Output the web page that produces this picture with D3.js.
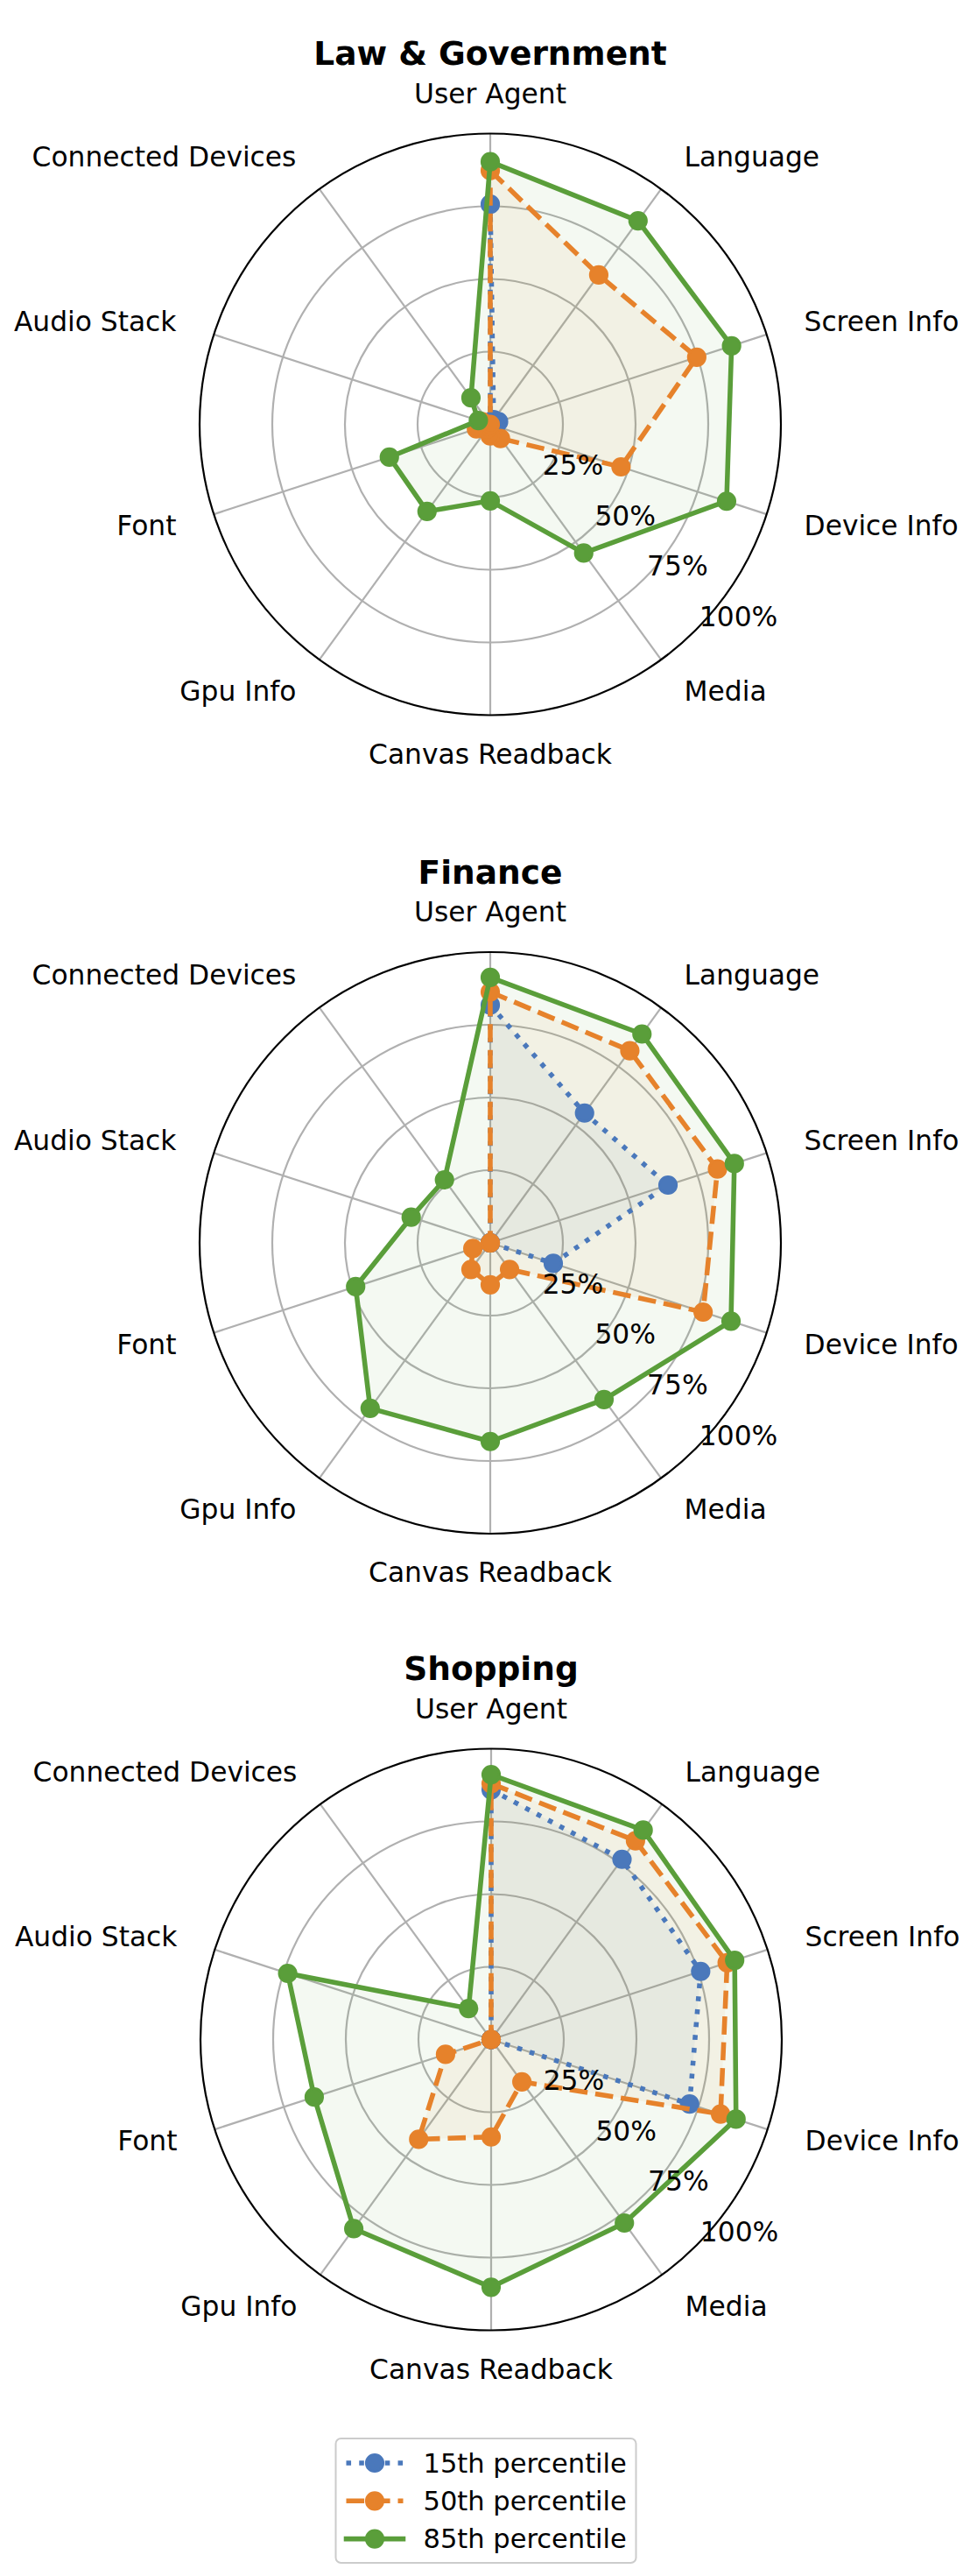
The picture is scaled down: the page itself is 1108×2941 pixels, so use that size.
<!DOCTYPE html>
<html><head><meta charset="utf-8">
<script src="https://cdn.jsdelivr.net/npm/d3@7"></script>
<style>
body{margin:0;background:#fff}
svg{display:block}
text{font-family:"DejaVu Sans",Verdana,sans-serif;fill:#000}
</style>
</head><body>
<svg id="chart" width="1108" height="2941"></svg>
<script>
// ---------- data ----------
const categories = ["User Agent","Language","Screen Info","Device Info","Media","Canvas Readback","Gpu Info","Font","Audio Stack","Connected Devices"];
const panelTitles = ["Law & Government","Finance","Shopping"];
const seriesNames = ["15th percentile","50th percentile","85th percentile"];

// values in percent, one per category (order as in categories)
const lawP15 = [75.7, 2, 3, 2, 0.5, 0, 0, 0, 0, 0];
const lawP50 = [87.3, 63.5, 74.7, 47.3, 6, 4, 2, 5, 3, 0];
const lawP85 = [90.3, 86.5, 87.3, 85.5, 54.7, 26.3, 37, 36.5, 4.3, 11.3];

const financeP15 = [81.8, 55.2, 64.3, 22.8, 0, 0, 0, 0, 0, 0];
const financeP50 = [86.3, 81.7, 82.2, 77, 11.3, 14.4, 11.3, 6.3, 0, 0];
const financeP85 = [91.3, 88.8, 88.3, 87.1, 66.6, 68.3, 70.3, 48.7, 28.6, 26.8];

const shoppingP15 = [85.9, 76.6, 75.8, 71.8, 0, 0, 0, 0, 0, 0];
const shoppingP50 = [88, 84.5, 85.4, 83, 18, 33.5, 42.4, 16.5, 0, 0];
const shoppingP85 = [91.1, 89, 88.1, 88.6, 78, 85.2, 80.4, 64, 73.6, 13.2];

const radialTicks = [25, 50, 75, 100];
const radialTickLabels = ["25%", "50%", "75%", "100%"];

const panelData = [
  [lawP15, lawP50, lawP85],
  [financeP15, financeP50, financeP85],
  [shoppingP15, shoppingP50, shoppingP85]
];

// ---------- style / layout ----------
const colors = ["#4a78bb", "#e6822b", "#5a9e3a"];
const dashes = ["5.56,9.2", "20.6,8.9", null];
const lineW = 5.56;
const markerR = 9.7;
const fillAlpha = 0.065;
const centersX = [560, 560, 561];
const centersY = [484.5, 1419, 2328.5];
const R = 332;
const labelR = 377;
const tickAngleDeg = 134;
const labelSize = 31.3;

const svg = d3.select("#chart");
svg.append("rect").attr("width",1108).attr("height",2941).attr("fill","#fff");

const angle = d3.scaleLinear().domain([0, categories.length]).range([0, 2*Math.PI]);
const rScale = d3.scaleLinear().domain([0, 100]).range([0, R]);

panelData.forEach((series, p) => {
  const g = svg.append("g").attr("transform", `translate(${centersX[p]},${centersY[p]})`);

  // title
  g.append("text").attr("x", 0).attr("y", -410.5)
    .attr("text-anchor","middle").attr("font-weight","bold").attr("font-size", 37.5)
    .text(panelTitles[p]);

  // grid rings (inner)
  g.selectAll("circle.ring").data(radialTicks.slice(0, -1)).join("circle")
    .attr("class","ring").attr("r", d => rScale(d))
    .attr("fill","none").attr("stroke","#b0b0b0").attr("stroke-width",2.2);

  // spokes
  g.selectAll("line.spoke").data(categories).join("line")
    .attr("class","spoke")
    .attr("x1",0).attr("y1",0)
    .attr("x2",(d,i)=> R*Math.sin(angle(i)))
    .attr("y2",(d,i)=> -R*Math.cos(angle(i)))
    .attr("stroke","#b0b0b0").attr("stroke-width",2.2);

  // outer frame
  g.append("circle").attr("r", rScale(100)).attr("fill","none")
    .attr("stroke","#000").attr("stroke-width",2.2);

  // category labels
  g.selectAll("text.cat").data(categories).join("text")
    .attr("class","cat")
    .attr("x",(d,i)=> labelR*Math.sin(angle(i)))
    .attr("y",(d,i)=> -labelR*Math.cos(angle(i)))
    .attr("dy","0.32em")
    .attr("font-size",labelSize)
    .attr("text-anchor",(d,i)=>{
      const s = Math.sin(angle(i));
      return s > 0.01 ? "start" : (s < -0.01 ? "end" : "middle");
    })
    .text(d=>d);

  const radial = d3.lineRadial()
    .angle((d,i)=> angle(i))
    .radius(d=> rScale(d))
    .curve(d3.curveLinearClosed);

  // fills
  series.forEach((vals, s) => {
    g.append("path").attr("d", radial(vals))
      .attr("fill", colors[s]).attr("fill-opacity", fillAlpha).attr("stroke","none");
  });

  // lines + markers
  series.forEach((vals, s) => {
    const path = g.append("path").attr("d", radial(vals))
      .attr("fill","none").attr("stroke", colors[s]).attr("stroke-width", lineW)
      .attr("stroke-linejoin","round")
      .attr("stroke-linecap", dashes[s] ? "butt" : "square");
    if (dashes[s]) path.attr("stroke-dasharray", dashes[s]);
    g.selectAll(null).data(vals).join("circle")
      .attr("cx",(d,i)=> rScale(d)*Math.sin(angle(i)))
      .attr("cy",(d,i)=> -rScale(d)*Math.cos(angle(i)))
      .attr("r", markerR)
      .attr("fill", colors[s]).attr("stroke", colors[s]).attr("stroke-width", 2.78);
  });

  // radial tick labels
  const ta = tickAngleDeg * Math.PI/180;
  g.selectAll("text.rtick").data(radialTicks).join("text")
    .attr("class","rtick")
    .attr("x", d => rScale(d)*Math.sin(ta))
    .attr("y", d => -rScale(d)*Math.cos(ta))
    .attr("font-size",labelSize)
    .attr("text-anchor","start")
    .text((d,i)=> radialTickLabels[i]);
});

// ---------- legend ----------
const lg = svg.append("g").attr("transform","translate(383.5,2784)");
lg.append("rect").attr("width",343).attr("height",142).attr("rx",6)
  .attr("fill","#fff").attr("fill-opacity",0.8)
  .attr("stroke","#cccccc").attr("stroke-width",2);
seriesNames.forEach((name, s) => {
  const y = 28 + s*43.3;
  const ln = lg.append("line").attr("x1",12).attr("x2",77).attr("y1",y).attr("y2",y)
    .attr("stroke",colors[s]).attr("stroke-width",lineW)
    .attr("stroke-linecap", dashes[s] ? "butt" : "square");
  if (dashes[s]) ln.attr("stroke-dasharray", dashes[s]);
  lg.append("circle").attr("cx",44.5).attr("cy",y).attr("r",markerR)
    .attr("fill",colors[s]).attr("stroke",colors[s]).attr("stroke-width",2.78);
  lg.append("text").attr("x",100).attr("y",y).attr("dy","0.35em")
    .attr("font-size",30.5).text(name);
});
</script>
</body></html>
